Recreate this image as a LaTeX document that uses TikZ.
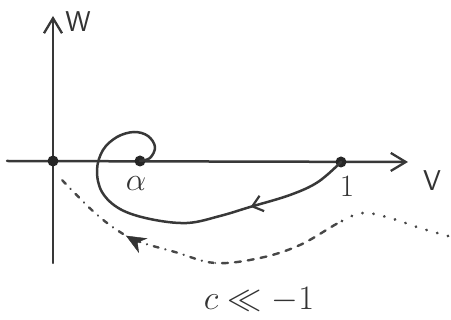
\documentclass[tikz,border=0pt]{standalone}
\usetikzlibrary{arrows.meta,decorations.markings}
\begin{document}
\begin{tikzpicture}[x=1pt,y=-1pt,
  pencil/.style={draw=black!78,line width=2.5pt,line cap=round,line join=round},
  axistip/.style={-{Straight Barb[length=15pt,width=18pt,line width=2.3pt]}},
  dot/.style={circle,fill=black!85,inner sep=0pt,minimum size=11pt},
  lbl/.style={text=black!80,font=\Huge},
  spiralarrow/.style={postaction={decorate,decoration={markings,
      mark=at position 0.26 with {\arrow{Straight Barb[length=10pt,width=16pt,line width=2.2pt]}}}}},
  wavearrow/.style={postaction={decorate,decoration={markings,
      mark=at position 0.80 with {\arrow[black!80]{Stealth[length=20pt,width=17pt]}}}}},
  wave/.style={draw=black!72,line width=2.4pt,line cap=round}]
\useasboundingbox (0,0) rectangle (451,320);

% axes
\coordinate (xl) at (7,161);
\coordinate (xr) at (408,162);
\coordinate (yb) at (53,263);
\coordinate (yt) at (53,16);
\draw[pencil,axistip] (xl) -- (xr);
\draw[pencil,axistip] (yb) -- (yt);

% fixed points
\node[dot] (o) at (53,161) {};
\node[dot] (a) at (140,161) {};
\node[dot] (one) at (341,162) {};

% labels
\node[lbl] (w) at (78,22) {\scalebox{1.15}{\sffamily W}};
\node[lbl] (v) at (432,181) {\scalebox{1.15}{\sffamily V}};
\node[lbl] (alab) at (136,184) {\scalebox{1.3}{$\alpha$}};
\node[lbl] (onelab) at (347,186) {\scalebox{1.25}{1}};
\node[lbl] (cond) at (259,300) {\scalebox{1.38}{$c \ll -1$}};

% orbit from 1 spiralling into alpha
\draw[pencil,spiralarrow] plot[smooth,tension=0.6] coordinates {
  (one.center) (318,182) (290,195) (250,207) (220,216) (187,223) (150,219)
  (120,209) (102,192) (97,170) (103,150) (117,137) (134,132) (148,136)
  (155,147) (150,158) (a.center)};

% lower orbit: dotted, then dashed, then dash-dotted
\def\wavepath{plot[smooth,tension=0.6] coordinates {
  (448,236) (420,228) (390,218) (363,213) (340,222) (300,245) (260,258)
  (215,263) (175,252) (140,242) (120,232) (95,213) (62,180)}}
\begin{scope}
  \clip (340,0) rectangle (451,320);
  \draw[wave,line width=3pt,dash pattern=on 0.1pt off 11pt] \wavepath;
\end{scope}
\begin{scope}
  \clip (215,0) rectangle (340,320);
  \draw[wave,dash pattern=on 6pt off 7pt] \wavepath;
\end{scope}
\begin{scope}
  \clip (0,0) rectangle (215,320);
  \draw[wave,dash pattern=on 5pt off 7pt on 0.1pt off 7pt] \wavepath;
\end{scope}
\path[wavearrow] \wavepath;
\end{tikzpicture}
\end{document}
